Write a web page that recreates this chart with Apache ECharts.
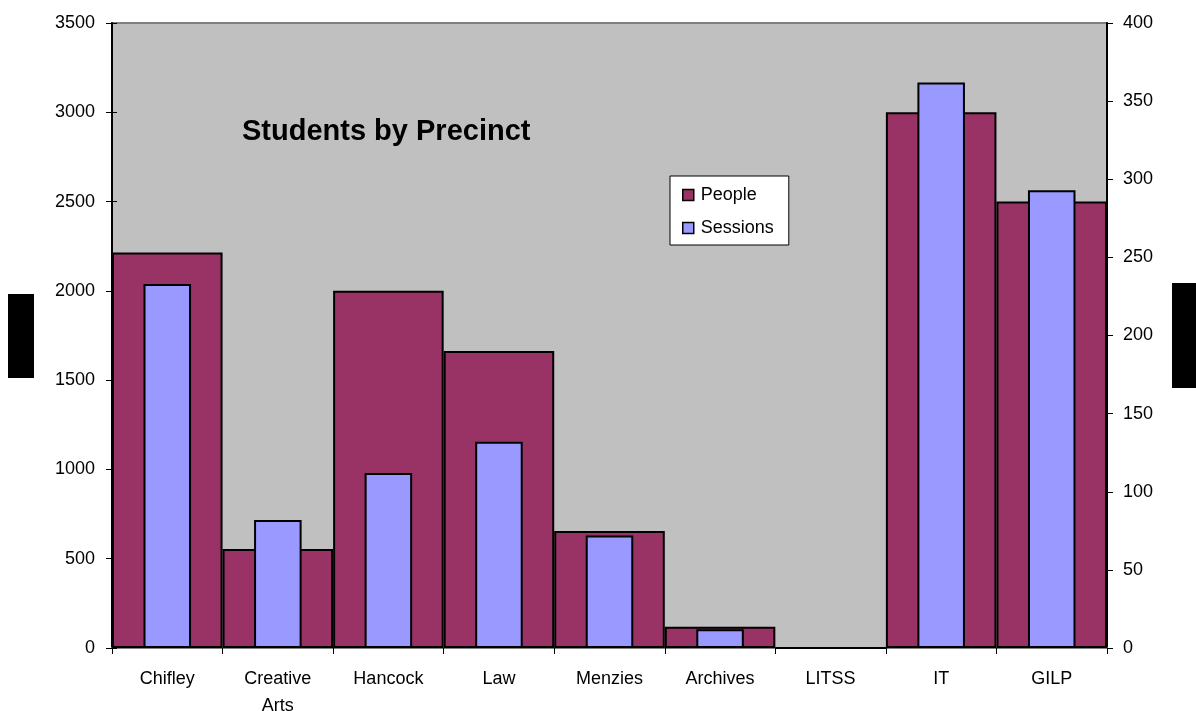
<!DOCTYPE html>
<html>
<head>
<meta charset="utf-8">
<title>Students by Precinct</title>
<script src="https://cdn.jsdelivr.net/npm/echarts@6/dist/echarts.min.js"></script>
<style>
  html, body { margin: 0; padding: 0; background: #ffffff; }
  #chart { width: 1196px; height: 711px; }
</style>
</head>
<body>
<div id="chart"></div>
<script>
// Precincts along the category axis
const precincts = ['Chifley', 'Creative\nArts', 'Hancock', 'Law', 'Menzies', 'Archives', 'LITSS', 'IT', 'GILP'];
// Number of people per precinct (left axis)
const people = [2215, 554, 2000, 1663, 655, 119, 0, 3000, 2500];
// Number of sessions per precinct (right axis)
const sessions = [233, 82, 112, 132, 72, 12, 0, 362, 293];
// Axis scales
const peopleAxis = { min: 0, max: 3500, interval: 500 };
const sessionsAxis = { min: 0, max: 400, interval: 50 };

const FONT = 'Liberation Sans, Arial, sans-serif';
const chart = echarts.init(document.getElementById('chart'), null, { renderer: 'canvas' });

const plainNumber = v => String(v);

chart.setOption({
  animation: false,
  backgroundColor: '#ffffff',
  textStyle: { fontFamily: FONT },
  grid: {
    left: 112, right: 89, top: 23, bottom: 63,
    outerBoundsMode: 'none', containLabel: false,
    show: true, backgroundColor: '#C0C0C0', borderColor: '#808080', borderWidth: 2
  },
  graphic: [
    {
      type: 'text', left: 242, top: 117,
      style: { text: 'Students by Precinct', font: 'bold 29px ' + FONT, fill: '#000000' }
    },
    { type: 'rect', left: 8, top: 294, shape: { width: 26, height: 84 }, style: { fill: '#000000' } },
    { type: 'rect', left: 1172, top: 283, shape: { width: 24, height: 105 }, style: { fill: '#000000' } }
  ],
  legend: {
    orient: 'vertical',
    left: 670, top: 176,
    backgroundColor: '#ffffff', borderColor: '#000000', borderWidth: 1,
    padding: [10, 15, 8, 12],
    itemWidth: 11, itemHeight: 11, itemGap: 15,
    icon: 'rect',
    itemStyle: { borderWidth: 1.5, borderColor: '#000000' },
    textStyle: { fontFamily: FONT, fontSize: 18, color: '#000000', padding: [0, 0, 0, 2] },
    data: ['People', 'Sessions']
  },
  xAxis: [
    {
      type: 'category', data: precincts,
      axisLine: { show: true, lineStyle: { color: '#808080', width: 2 } },
      axisTick: { show: true, length: 6, lineStyle: { color: '#000000', width: 1 } },
      axisLabel: { interval: 0, fontFamily: FONT, fontSize: 18, color: '#000000', margin: 18, lineHeight: 27 },
      splitLine: { show: false }
    },
    {
      type: 'category', data: precincts, show: false
    }
  ],
  yAxis: [
    {
      type: 'value', position: 'left',
      min: peopleAxis.min, max: peopleAxis.max, interval: peopleAxis.interval,
      axisLine: { show: true, lineStyle: { color: '#000000', width: 2 } },
      axisTick: { show: true, length: 6, lineStyle: { color: '#000000', width: 1 } },
      axisLabel: { fontFamily: FONT, fontSize: 18, color: '#000000', margin: 17, formatter: plainNumber },
      splitLine: { show: false }
    },
    {
      type: 'value', position: 'right',
      min: sessionsAxis.min, max: sessionsAxis.max, interval: sessionsAxis.interval,
      axisLine: { show: true, lineStyle: { color: '#000000', width: 2 } },
      axisTick: { show: true, length: 6, lineStyle: { color: '#000000', width: 1 } },
      axisLabel: { fontFamily: FONT, fontSize: 18, color: '#000000', margin: 16, formatter: plainNumber },
      splitLine: { show: false }
    },
    {
      // inner half of the left tick marks, so they cross the axis line
      type: 'value', position: 'left', offset: 0,
      min: peopleAxis.min, max: peopleAxis.max, interval: peopleAxis.interval,
      axisLine: { show: false },
      axisTick: { show: true, inside: true, length: 5, lineStyle: { color: '#000000', width: 1 } },
      axisLabel: { show: false },
      splitLine: { show: false }
    }
  ],
  series: [
    {
      name: 'People', type: 'bar', data: people,
      xAxisIndex: 0, yAxisIndex: 0,
      barCategoryGap: '0%', barWidth: '100%',
      itemStyle: { color: '#993366', borderColor: '#000000', borderWidth: 2 }
    },
    {
      name: 'Sessions', type: 'bar', data: sessions,
      xAxisIndex: 1, yAxisIndex: 1,
      barWidth: '43%',
      itemStyle: { color: '#9999FF', borderColor: '#000000', borderWidth: 2 }
    }
  ]
});
</script>
</body>
</html>
